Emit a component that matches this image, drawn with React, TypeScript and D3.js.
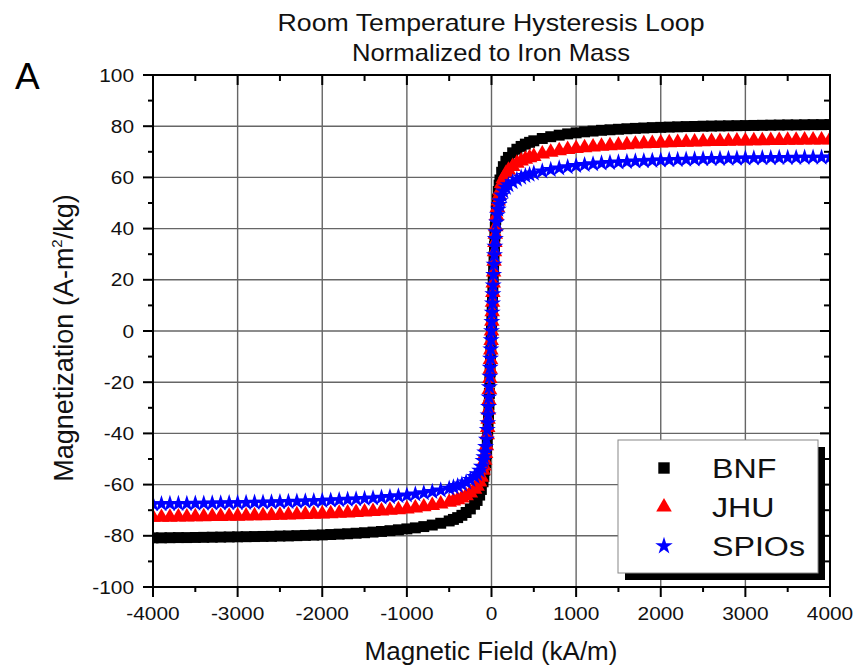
import React from "react";
import * as d3 from "d3";

// Applied field (kA/m), shared by all three samples
const FIELD = [
  -4000, -3900, -3800, -3700, -3600, -3500, -3400, -3300, -3200, -3100,
  -3000, -2900, -2800, -2700, -2600, -2500, -2400, -2300, -2200, -2100,
  -2000, -1900, -1800, -1700, -1600, -1500, -1400, -1300, -1200, -1100,
  -1000, -900, -800, -700, -600, -500,
  -450, -400, -350, -300, -250, -200, -170, -140, -120, -100, -90, -80, -70,
  -60, -50, -45, -40, -35, -30, -25, -20, -16, -12, -8, -4,
  0,
  4, 8, 12, 16, 20, 25, 30, 35, 40, 45, 50, 60, 70, 80, 90, 100, 120, 140,
  170, 200, 250, 300, 350, 400, 450,
  500, 600, 700, 800, 900, 1000,
  1100, 1200, 1300, 1400, 1500, 1600, 1700, 1800, 1900, 2000,
  2100, 2200, 2300, 2400, 2500, 2600, 2700, 2800, 2900, 3000,
  3100, 3200, 3300, 3400, 3500, 3600, 3700, 3800, 3900, 4000,
];

// Magnetization (A-m²/kg) per sample
const BNF = [
  -80.8, -80.8, -80.75, -80.7, -80.7, -80.65, -80.6, -80.55, -80.5, -80.45,
  -80.4, -80.35, -80.3, -80.25, -80.2, -80.1, -80.05, -79.95, -79.85, -79.75,
  -79.65, -79.5, -79.35, -79.2, -79.0, -78.8, -78.55, -78.3, -78.0, -77.65,
  -77.3, -76.9, -76.4, -75.8, -75.1, -74.2,
  -73.6, -72.9, -72.0, -70.9, -69.5, -67.7, -66.2, -64.1, -61.9, -58.9, -56.9,
  -54.4, -51.4, -47.9, -43.4, -40.4, -36.9, -32.9, -28.9, -24.4, -19.9, -15.9,
  -11.9, -7.9, -3.9,
  0,
  4, 8, 12, 16, 20, 24.5, 29, 33, 37, 40.5, 43.5, 48, 51.5, 54.5, 57, 59, 62,
  64.2, 66.3, 67.8, 69.6, 71, 72.1, 73, 73.7,
  74.3, 75.2, 75.9, 76.5, 77, 77.4,
  77.8, 78.1, 78.4, 78.6, 78.8, 79.0, 79.15, 79.3, 79.45, 79.55,
  79.65, 79.75, 79.85, 79.9, 80.0, 80.05, 80.1, 80.15, 80.2, 80.25,
  80.3, 80.35, 80.4, 80.45, 80.5, 80.5, 80.55, 80.6, 80.6, 80.65,
];

const JHU = [
  -72.8, -72.8, -72.75, -72.7, -72.65, -72.6, -72.55, -72.5, -72.45, -72.4,
  -72.35, -72.3, -72.2, -72.15, -72.1, -72.0, -71.9, -71.8, -71.7, -71.6,
  -71.5, -71.35, -71.2, -71.05, -70.9, -70.7, -70.5, -70.3, -70.05, -69.8,
  -69.5, -69.1, -68.7, -68.2, -67.6, -66.9,
  -66.4, -65.9, -65.2, -64.4, -63.3, -61.8, -60.6, -59.0, -57.1, -54.4, -52.7,
  -50.5, -47.9, -44.8, -40.5, -37.7, -34.5, -30.9, -27.1, -22.9, -18.6, -14.9,
  -11.1, -7.4, -3.7,
  0,
  3.8, 7.5, 11.2, 15, 18.7, 23, 27.2, 31, 34.6, 37.8, 40.7, 45, 48.2, 50.8, 53,
  54.8, 57.6, 59.6, 61.5, 62.8, 64.3, 65.5, 66.4, 67.1, 67.7,
  68.2, 69.1, 69.8, 70.4, 70.9, 71.3,
  71.6, 71.9, 72.2, 72.4, 72.6, 72.8, 73.0, 73.1, 73.25, 73.4,
  73.5, 73.6, 73.7, 73.8, 73.9, 74.0, 74.05, 74.1, 74.2, 74.25,
  74.3, 74.35, 74.4, 74.45, 74.5, 74.55, 74.6, 74.6, 74.65, 74.7,
];

const SPIOS = [
  -67.6, -67.55, -67.5, -67.5, -67.45, -67.4, -67.35, -67.3, -67.25, -67.2,
  -67.15, -67.1, -67.0, -66.95, -66.9, -66.8, -66.7, -66.6, -66.5, -66.4,
  -66.3, -66.15, -66.0, -65.85, -65.7, -65.5, -65.3, -65.05, -64.8, -64.5,
  -64.2, -63.8, -63.3, -62.8, -62.2, -61.5,
  -61.0, -60.5, -59.9, -59.1, -58.1, -56.9, -55.9, -54.5, -52.9, -50.7, -49.2,
  -47.4, -45.2, -42.4, -38.6, -35.9, -32.9, -29.6, -25.9, -21.9, -17.8, -14.3,
  -10.7, -7.1, -3.5,
  0,
  3.6, 7.2, 10.8, 14.4, 17.9, 22, 26, 29.7, 33, 36, 38.7, 42.5, 45.3, 47.5,
  49.3, 50.8, 53, 54.6, 56, 57, 58.2, 59.2, 60, 60.6, 61.1,
  61.6, 62.4, 63, 63.6, 64.1, 64.5,
  64.9, 65.2, 65.5, 65.7, 65.9, 66.1, 66.3, 66.4, 66.55, 66.7,
  66.8, 66.9, 67.0, 67.1, 67.2, 67.25, 67.3, 67.35, 67.4, 67.45,
  67.5, 67.55, 67.6, 67.65, 67.7, 67.72, 67.75, 67.8, 67.8, 67.85,
];

const X_TICKS = [-4000, -3000, -2000, -1000, 0, 1000, 2000, 3000, 4000];
const Y_TICKS = [-100, -80, -60, -40, -20, 0, 20, 40, 60, 80, 100];

const SERIES = [
  { name: "BNF", values: BNF, color: "#000000", symbol: d3.symbolSquare, size: 120, legendSize: 130 },
  { name: "JHU", values: JHU, color: "#ff0000", symbol: d3.symbolTriangle, size: 105, legendSize: 105 },
  { name: "SPIOs", values: SPIOS, color: "#0000ff", symbol: d3.symbolStar, size: 90, legendSize: 95 },
];

const FONT = "'Liberation Sans', Arial, Helvetica, sans-serif";

// Text in this figure is set slightly wide
const WIDE = 1.13;

export default function App() {
  const W = 856;
  const H = 668;
  const left = 153, right = 830, top = 75, bottom = 587;

  const x = d3.scaleLinear().domain([-4000, 4000]).range([left, right]);
  const y = d3.scaleLinear().domain([-100, 100]).range([bottom, top]);

  const xMinor = d3.range(-4000, 4001, 500).filter((v) => v % 1000 !== 0);
  const yMinor = d3.range(-100, 101, 10).filter((v) => v % 20 !== 0);

  const majorLen = 10;
  const minorLen = 5;

  return (
    <svg
      width={W}
      height={H}
      viewBox={`0 0 ${W} ${H}`}
      style={{ position: "absolute", left: 0, top: 0, background: "#fff" }}
      fontFamily={FONT}
    >
      <rect x={0} y={0} width={W} height={H} fill="#fff" />
      <defs>
        <clipPath id="plot-area">
          <rect x={left} y={top} width={right - left} height={bottom - top} />
        </clipPath>
      </defs>

      {/* title */}
      <text x={491} y={31} textAnchor="middle" fontSize={24} fill="#111"
        textLength={427} lengthAdjust="spacingAndGlyphs">
        Room Temperature Hysteresis Loop
      </text>
      <text x={491} y={61} textAnchor="middle" fontSize={24} fill="#111"
        textLength={278} lengthAdjust="spacingAndGlyphs">
        Normalized to Iron Mass
      </text>
      <text x={15} y={89} fontSize={37} fill="#000">A</text>

      {/* grid */}
      <g stroke="#666" strokeWidth={1.4}>
        {X_TICKS.slice(1, -1).map((v) => (
          <line key={`gx${v}`} x1={x(v)} x2={x(v)} y1={top} y2={bottom} />
        ))}
        {Y_TICKS.slice(1, -1).map((v) => (
          <line key={`gy${v}`} x1={left} x2={right} y1={y(v)} y2={y(v)} />
        ))}
      </g>

      {/* data */}
      <g clipPath="url(#plot-area)">
        {SERIES.map((s) => {
          const path = d3.symbol().type(s.symbol).size(s.size)();
          return (
            <g key={s.name} fill={s.color}>
              {FIELD.map((f, i) => (
                <path key={i} d={path as string} transform={`translate(${x(f)},${y(s.values[i])})`} />
              ))}
            </g>
          );
        })}
      </g>

      {/* frame and ticks */}
      <g stroke="#000" strokeWidth={2} fill="none">
        <rect x={left} y={top} width={right - left} height={bottom - top} />
        {X_TICKS.map((v) => (
          <g key={`tx${v}`}>
            <line x1={x(v)} x2={x(v)} y1={bottom} y2={bottom + majorLen} />
            <line x1={x(v)} x2={x(v)} y1={top} y2={top + majorLen} />
          </g>
        ))}
        {xMinor.map((v) => (
          <g key={`mx${v}`}>
            <line x1={x(v)} x2={x(v)} y1={bottom} y2={bottom + minorLen} />
            <line x1={x(v)} x2={x(v)} y1={top} y2={top + minorLen + 1} />
          </g>
        ))}
        {Y_TICKS.map((v) => (
          <g key={`ty${v}`}>
            <line x1={left - majorLen} x2={left} y1={y(v)} y2={y(v)} />
            <line x1={right - majorLen} x2={right} y1={y(v)} y2={y(v)} />
          </g>
        ))}
        {yMinor.map((v) => (
          <g key={`my${v}`}>
            <line x1={left - minorLen} x2={left} y1={y(v)} y2={y(v)} />
            <line x1={right - minorLen - 1} x2={right} y1={y(v)} y2={y(v)} />
          </g>
        ))}
      </g>

      {/* tick labels */}
      <g fontSize={18.5} fill="#111">
        {X_TICKS.map((v) => (
          <text key={`lx${v}`} transform={`translate(${x(v)},620) scale(${WIDE},1)`} textAnchor="middle">{v}</text>
        ))}
        {Y_TICKS.map((v) => (
          <text key={`ly${v}`} transform={`translate(134,${y(v) + 6.5}) scale(${WIDE},1)`} textAnchor="end">{v}</text>
        ))}
      </g>

      {/* axis titles */}
      <text x={491} y={660} textAnchor="middle" fontSize={26} fill="#111">
        Magnetic Field (kA/m)
      </text>
      <text transform="translate(73,338) rotate(-90)" textAnchor="middle" fontSize={27} fill="#111">
        Magnetization (A-m<tspan dy={-11} fontSize={15}>2</tspan><tspan dy={11}>/kg)</tspan>
      </text>

      {/* legend */}
      <g>
        <rect x={625} y={447} width={200} height={133} fill="#000" />
        <rect x={618} y={440} width={200} height={133} fill="#fff" stroke="#888" strokeWidth={1} />
        {SERIES.map((s, i) => {
          const cy = 468 + i * 39;
          const path = d3.symbol().type(s.symbol).size(s.legendSize)();
          return (
            <g key={`lg${s.name}`}>
              <path d={path as string} fill={s.color} transform={`translate(664,${cy})`} />
              <text transform={`translate(712,${cy + 10}) scale(1.15,1)`} fontSize={28} fill="#111">{s.name}</text>
            </g>
          );
        })}
      </g>
    </svg>
  );
}
